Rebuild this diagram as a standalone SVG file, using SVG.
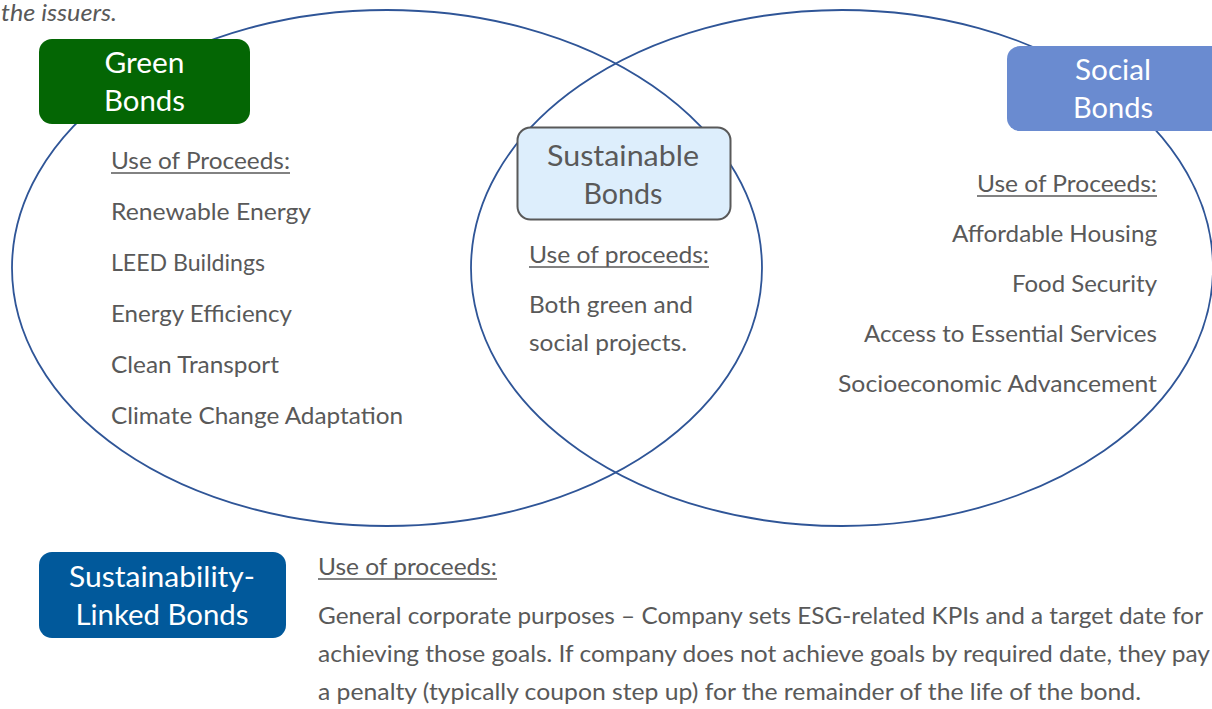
<svg xmlns="http://www.w3.org/2000/svg" width="1212" height="709" viewBox="0 0 1212 709">
  <style>
    .ring { fill: none; stroke: #2F5597; stroke-width: 1.8; }
    .title { font-family: Lato, "Open Sans", "Liberation Sans", sans-serif; font-size: 28px; text-anchor: middle; }
    .light { fill: #ffffff; }
    .dark { fill: #595959; }
    .body { font-family: Lato, "Open Sans", "Liberation Sans", sans-serif; font-size: 23px; fill: #595959; }
    .end { text-anchor: end; }
    .rule { stroke: #595959; stroke-width: 1.3; }
  </style>
  <rect width="1212" height="709" fill="#ffffff"/>

  <!-- caption fragment at the top -->
  <text x="1" y="21" class="body" font-size="21" font-style="italic" textLength="116" lengthAdjust="spacingAndGlyphs">the issuers.</text>

  <!-- overlapping circles -->
  <g id="connectors">
    <ellipse class="ring" cx="387" cy="268" rx="375" ry="258"/>
    <ellipse class="ring" cx="842" cy="268" rx="371" ry="258"/>
  </g>

  <g id="green-bonds">
    <rect x="39" y="39" width="211" height="85" rx="13" fill="#046604"/>
    <text x="144.5" y="73" class="title light" textLength="80" lengthAdjust="spacingAndGlyphs">Green</text>
    <text x="144.5" y="111" class="title light" textLength="81" lengthAdjust="spacingAndGlyphs">Bonds</text>
  </g>

  <g id="green-list">
    <text x="111" y="169" class="body" textLength="179" lengthAdjust="spacingAndGlyphs">Use of Proceeds:</text>
    <line x1="111" y1="173" x2="290" y2="173" class="rule"/>
    <text x="111" y="220" class="body" textLength="200" lengthAdjust="spacingAndGlyphs">Renewable Energy</text>
    <text x="111" y="271" class="body" textLength="154" lengthAdjust="spacingAndGlyphs">LEED Buildings</text>
    <text x="111" y="322" class="body" textLength="181" lengthAdjust="spacingAndGlyphs">Energy Efficiency</text>
    <text x="111" y="373" class="body" textLength="168" lengthAdjust="spacingAndGlyphs">Clean Transport</text>
    <text x="111" y="424" class="body" textLength="292" lengthAdjust="spacingAndGlyphs">Climate Change Adaptation</text>
  </g>

  <g id="sustainable-bonds">
    <rect x="517.5" y="127.5" width="213" height="92" rx="13" fill="#DDEEFC" stroke="#595959" stroke-width="2"/>
    <text x="623" y="166" class="title dark" textLength="152" lengthAdjust="spacingAndGlyphs">Sustainable</text>
    <text x="623" y="204" class="title dark" textLength="79" lengthAdjust="spacingAndGlyphs">Bonds</text>
  </g>

  <g id="sustainable-list">
    <text x="529" y="263" class="body" textLength="180" lengthAdjust="spacingAndGlyphs">Use of proceeds:</text>
    <line x1="529" y1="267" x2="709" y2="267" class="rule"/>
    <text x="529" y="313" class="body" textLength="164" lengthAdjust="spacingAndGlyphs">Both green and</text>
    <text x="529" y="351" class="body" textLength="158" lengthAdjust="spacingAndGlyphs">social projects.</text>
  </g>

  <g id="social-bonds">
    <rect x="1007" y="46" width="220" height="85" rx="13" fill="#6A8BD0"/>
    <text x="1113" y="80" class="title light" textLength="76" lengthAdjust="spacingAndGlyphs">Social</text>
    <text x="1113" y="118" class="title light" textLength="80" lengthAdjust="spacingAndGlyphs">Bonds</text>
  </g>

  <g id="social-list">
    <text x="1157" y="192" class="body end" textLength="180" lengthAdjust="spacingAndGlyphs">Use of Proceeds:</text>
    <line x1="977" y1="196" x2="1157" y2="196" class="rule"/>
    <text x="1157" y="242" class="body end" textLength="205" lengthAdjust="spacingAndGlyphs">Affordable Housing</text>
    <text x="1157" y="292" class="body end" textLength="145" lengthAdjust="spacingAndGlyphs">Food Security</text>
    <text x="1157" y="342" class="body end" textLength="293" lengthAdjust="spacingAndGlyphs">Access to Essential Services</text>
    <text x="1157" y="392" class="body end" textLength="319" lengthAdjust="spacingAndGlyphs">Socioeconomic Advancement</text>
  </g>

  <g id="sustainability-linked-bonds">
    <rect x="39" y="552" width="247" height="86" rx="13" fill="#01599B"/>
    <text x="162" y="587" class="title light" textLength="186" lengthAdjust="spacingAndGlyphs">Sustainability-</text>
    <text x="162" y="625" class="title light" textLength="173" lengthAdjust="spacingAndGlyphs">Linked Bonds</text>
  </g>

  <g id="sustainability-linked-text">
    <text x="318" y="575" class="body" textLength="179" lengthAdjust="spacingAndGlyphs">Use of proceeds:</text>
    <line x1="318" y1="579" x2="497" y2="579" class="rule"/>
    <text x="318" y="624" class="body" textLength="885" lengthAdjust="spacingAndGlyphs">General corporate purposes – Company sets ESG-related KPIs and a target date for</text>
    <text x="318" y="662" class="body" textLength="892" lengthAdjust="spacingAndGlyphs">achieving those goals. If company does not achieve goals by required date, they pay</text>
    <text x="318" y="700" class="body" textLength="823" lengthAdjust="spacingAndGlyphs">a penalty (typically coupon step up) for the remainder of the life of the bond.</text>
  </g>
</svg>
